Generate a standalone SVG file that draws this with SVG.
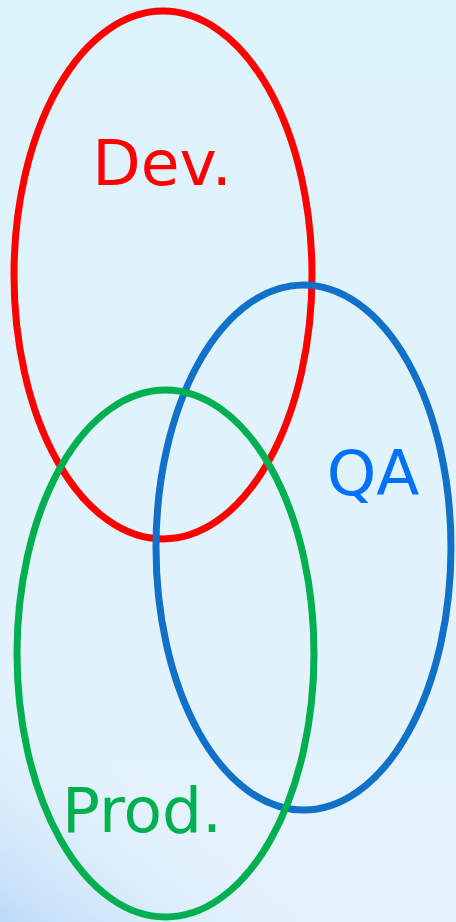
<svg xmlns="http://www.w3.org/2000/svg" width="456" height="922" viewBox="0 0 456 922">
<defs>
<linearGradient id="bg" x1="0" y1="0" x2="0" y2="1">
<stop offset="0" stop-color="#DDF3FA"/>
<stop offset="1" stop-color="#E4F2FC"/>
</linearGradient>
<linearGradient id="corner" x1="0" y1="922" x2="120" y2="760" gradientUnits="userSpaceOnUse">
<stop offset="0" stop-color="#BBDAF7" stop-opacity="1"/>
<stop offset="1" stop-color="#E4F2FC" stop-opacity="0"/>
</linearGradient>
<style>
.ring{fill:none;stroke-width:7}
.lbl{font-family:"DejaVu Sans",sans-serif;font-size:63px}
</style>
</defs>
<rect width="456" height="922" fill="url(#bg)"/>
<rect width="456" height="922" fill="url(#corner)"/>
<g id="dev">
<ellipse class="ring" cx="163" cy="275" rx="149" ry="264" stroke="#FF0000"/>
<text class="lbl" x="162" y="185" text-anchor="middle" fill="#FF0000">Dev.</text>
</g>
<g id="qa">
<ellipse class="ring" cx="303.5" cy="547.5" rx="147.5" ry="262.5" stroke="#1170C8"/>
<text class="lbl" x="373" y="495" text-anchor="middle" fill="#0070FF">QA</text>
</g>
<g id="prod">
<ellipse class="ring" cx="165.5" cy="653.5" rx="148.5" ry="263.5" stroke="#00B050"/>
<text class="lbl" x="142" y="832" text-anchor="middle" fill="#00B050">Prod.</text>
</g>
<g id="connectors"/>
</svg>
